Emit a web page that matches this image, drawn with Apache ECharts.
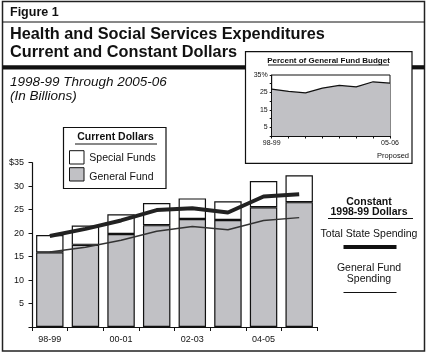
<!DOCTYPE html>
<html><head><meta charset="utf-8">
<script src="https://cdn.jsdelivr.net/npm/echarts@6/dist/echarts.min.js"></script>
<style>html,body{margin:0;padding:0;background:#fff}#c{width:427px;height:353px}</style>
</head><body><div id="c"></div>
<script>
const categories = ["98-99","99-00","00-01","01-02","02-03","03-04","04-05","05-06"];
const generalFund = [15.9, 17.5, 19.8, 21.7, 23.0, 22.8, 25.5, 26.6];
const specialFunds = [3.7, 4.1, 4.2, 4.7, 4.4, 4.0, 5.6, 5.7];
const totalStateConstant = [19.4, 20.9, 22.7, 24.9, 25.3, 24.4, 27.8, 28.3];
const generalFundConstant = [16.0, 17.0, 18.5, 20.4, 21.4, 20.7, 22.7, 23.3];
const insetCategories = ["98-99","99-00","00-01","01-02","02-03","03-04","04-05","05-06"];
const insetPercent = [26.9, 25.6, 24.7, 27.5, 29.0, 28.2, 31.1, 30.3];
const insetLabelTicks = [5, 15, 25, 35];
const insetMinorTicks = [0, 5, 10, 15, 20, 25, 30, 35];

const F = "'Liberation Sans', Arial, sans-serif";
const GRAY = '#c1c1c5';
function txt(text, x, y, font, align) {
  return {type:'text', x:x, y:y, z:10, style:{text:text, font:font, fill:'#111', align:align||'left', textAlign:align||'left', verticalAlign:'top', textVerticalAlign:'top'}};
}
function line(x1,y1,x2,y2,w,z){
  return {type:'line', z:z||10, shape:{x1:x1,y1:y1,x2:x2,y2:y2}, style:{stroke:'#111', lineWidth:w}};
}
const chart = echarts.init(document.getElementById('c'), null, {renderer:'canvas'});
chart.setOption({
  animation:false,
  backgroundColor:'#fff',
  grid:[
    {left:32, right:110, top:162.7, bottom:26, containLabel:false},
    {left:271.7, top:75, width:118.3, height:61, show:true, borderColor:'#111', borderWidth:1, backgroundColor:'transparent', z:5}
  ],
  xAxis:[
    {type:'category', gridIndex:0, data:categories, boundaryGap:true,
     axisLine:{lineStyle:{color:'#111', width:1.2}},
     axisTick:{show:true, length:4, interval:0, lineStyle:{color:'#111'}},
     axisLabel:{interval:1, color:'#111', fontSize:9, fontFamily:F, margin:8}},
    {type:'category', gridIndex:1, data:insetCategories, boundaryGap:false, z:6,
     axisLine:{lineStyle:{color:'#111', width:1}},
     axisTick:{show:true, length:2.5, interval:0, lineStyle:{color:'#111'}},
     axisLabel:{interval:0, color:'#111', fontSize:7, fontFamily:F, margin:4,
       formatter:function(v,i){ return (i===0 || i===insetCategories.length-1) ? v : ''; }}}
  ],
  yAxis:[
    {type:'value', gridIndex:0, min:0, max:35, interval:5,
     axisLine:{show:true, lineStyle:{color:'#111', width:1.2}},
     axisTick:{show:true, length:3.5, lineStyle:{color:'#111'}},
     splitLine:{show:false},
     axisLabel:{color:'#111', fontSize:9, fontFamily:F, margin:8,
       formatter:function(v){ if(v===0) return ''; if(v===35) return '$35'; return String(v); }}},
    {type:'value', gridIndex:1, min:0, max:35, z:6,
     axisLine:{show:true, lineStyle:{color:'#111', width:1}},
     axisTick:{show:true, length:2, customValues:insetMinorTicks, lineStyle:{color:'#111'}},
     splitLine:{show:false},
     axisLabel:{color:'#111', fontSize:7, fontFamily:F, margin:4, customValues:insetLabelTicks,
       formatter:function(v){ return v===35 ? '35%' : String(v); }}}
  ],
  series:[
    {name:'General Fund', type:'bar', stack:'cur', xAxisIndex:0, yAxisIndex:0, data:generalFund, barWidth:'77%',
     itemStyle:{color:GRAY, borderColor:'#111', borderWidth:1.2}},
    {name:'Special Funds', type:'bar', stack:'cur', xAxisIndex:0, yAxisIndex:0, data:specialFunds, barWidth:'77%',
     itemStyle:{color:'#fff', borderColor:'#111', borderWidth:1.2}},
    {name:'Total State Spending', type:'line', xAxisIndex:0, yAxisIndex:0, data:totalStateConstant, symbol:'none', z:4,
     lineStyle:{color:'#222', width:4}},
    {name:'General Fund Spending', type:'line', xAxisIndex:0, yAxisIndex:0, data:generalFundConstant, symbol:'none', z:4,
     lineStyle:{color:'#333', width:1.5}},
    {name:'Percent', type:'line', xAxisIndex:1, yAxisIndex:1, data:insetPercent, symbol:'none', z:5,
     lineStyle:{color:'#111', width:1.2}, areaStyle:{color:GRAY, opacity:1}}
  ],
  graphic:[
    {type:'rect', z:-5, shape:{x:2.5, y:1.5, width:422, height:349.5}, style:{fill:'#fff', stroke:'#222', lineWidth:1.5}},
    line(2.5,22,424.5,22,1),
    line(2.5,67.3,245,67.3,4.2),
    line(412,67.3,424.5,67.3,4.2),
    {type:'rect', z:1, shape:{x:245.5, y:51.7, width:166.5, height:111.6}, style:{fill:'#fff', stroke:'#111', lineWidth:1.2}},
    txt('Figure 1', 10, 6.5, 'bold 12.5px '+F),
    txt('Health and Social Services Expenditures', 10, 27, 'bold 16.3px '+F),
    txt('Current and Constant Dollars', 10, 44.5, 'bold 16.3px '+F),
    txt('1998-99 Through 2005-06', 10, 75, 'italic 13.5px '+F),
    txt('(In Billions)', 10, 89.5, 'italic 13.5px '+F),
    txt('Percent of General Fund Budget', 328.5, 56.5, 'bold 8px '+F, 'center'),
    line(268,65,389,65,1),
    txt('Proposed', 409, 151.5, '7.5px '+F, 'right'),
    {type:'rect', z:10, shape:{x:63.5, y:127.5, width:102.5, height:61}, style:{fill:'#fff', stroke:'#111', lineWidth:1.2}},
    txt('Current Dollars', 115.5, 132, 'bold 10.5px '+F, 'center'),
    line(75,144,157,144,1),
    {type:'rect', z:11, shape:{x:69.5, y:150.7, width:14.5, height:13.3}, style:{fill:'#fff', stroke:'#111', lineWidth:1}},
    {type:'rect', z:11, shape:{x:69.5, y:167.7, width:14.5, height:13.3}, style:{fill:GRAY, stroke:'#111', lineWidth:1}},
    txt('Special Funds', 89.3, 152.5, '10.5px '+F),
    txt('General Fund', 89.3, 171.5, '10.5px '+F),
    txt('Constant', 369, 197, 'bold 10.5px '+F, 'center'),
    txt('1998-99 Dollars', 369, 207, 'bold 10.5px '+F, 'center'),
    line(328,218.5,413,218.5,1),
    txt('Total State Spending', 369, 228.5, '10.5px '+F, 'center'),
    line(343.5,247,396.5,247,4),
    txt('General Fund', 369, 262.5, '10.5px '+F, 'center'),
    txt('Spending', 369, 273.5, '10.5px '+F, 'center'),
    line(343.5,292.5,396.5,292.5,1.2)
  ]
});
</script></body></html>
